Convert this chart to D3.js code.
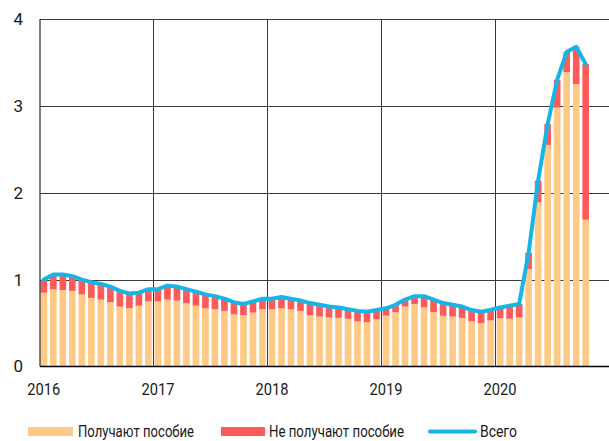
<!DOCTYPE html>
<html>
<head>
<meta charset="utf-8">
<script src="https://cdn.jsdelivr.net/npm/d3@7"></script>
<style>
  body { margin: 0; background: #fff; }
  svg text { font-family: Roboto, "Noto Sans", sans-serif; fill: #1a1a1a; }
</style>
</head>
<body>
<div id="chart"></div>
<script>
// monthly, Jan 2016 .. Oct 2020, millions of people
const months = d3.range(58).map(i => new Date(2016, i, 1));

const received = [
  0.85, 0.89, 0.88, 0.87, 0.83, 0.79, 0.77, 0.74, 0.69, 0.67, 0.70, 0.75,
  0.75, 0.77, 0.76, 0.73, 0.70, 0.67, 0.66, 0.64, 0.60, 0.59, 0.62, 0.66,
  0.66, 0.67, 0.66, 0.64, 0.59, 0.575, 0.565, 0.56, 0.55, 0.52, 0.51, 0.545,
  0.585, 0.625, 0.69, 0.72, 0.68, 0.625, 0.585, 0.575, 0.56, 0.52, 0.50, 0.53,
  0.555, 0.55, 0.565, 1.12, 1.89, 2.55, 2.98, 3.39, 3.25, 1.69
];
const notReceived = [
  0.15, 0.17, 0.18, 0.17, 0.17, 0.18, 0.18, 0.18, 0.18, 0.17, 0.15, 0.14,
  0.14, 0.16, 0.16, 0.16, 0.16, 0.16, 0.15, 0.14, 0.14, 0.13, 0.13, 0.12,
  0.12, 0.13, 0.12, 0.12, 0.14, 0.135, 0.125, 0.12, 0.11, 0.12, 0.12, 0.105,
  0.085, 0.085, 0.08, 0.09, 0.13, 0.145, 0.145, 0.135, 0.13, 0.13, 0.13, 0.12,
  0.125, 0.15, 0.155, 0.19, 0.25, 0.24, 0.32, 0.23, 0.43, 1.79
];
const yTicks = [0, 1, 2, 3, 4];
const yearTicks = [2016, 2017, 2018, 2019, 2020];
const legendItems = ["Получают пособие", "Не получают пособие", "Всего"];

const colors = { received: "#ffca88", notReceived: "#ff5a5a", total: "#17b4e6" };

const W = 609, H = 441;
const svg = d3.select("#chart").append("svg").attr("width", W).attr("height", H);

const x = d3.scaleBand().domain(months).range([40.5, 589]).paddingInner(0.3).paddingOuter(0).align(0);
const y = d3.scaleLinear().domain([0, 4]).range([366.5, 19]);

const data = months.map((m, i) => ({
  m, a: received[i], b: notReceived[i], total: received[i] + notReceived[i]
}));

// horizontal grid
svg.append("g").selectAll("line").data(yTicks.filter(d => d > 0)).join("line")
  .attr("x1", 40).attr("x2", W)
  .attr("y1", d => Math.round(y(d)) + 0.5).attr("y2", d => Math.round(y(d)) + 0.5)
  .attr("stroke", "#3a3a3a").attr("stroke-width", 1);

// vertical year grid
const yearX = yr => x(new Date(yr, 0, 1)) - x.step() * x.paddingInner() / 2;
svg.append("g").selectAll("line").data(yearTicks.slice(1)).join("line")
  .attr("x1", d => Math.round(yearX(d)) + 0.5).attr("x2", d => Math.round(yearX(d)) + 0.5)
  .attr("y1", y(4)).attr("y2", y(0))
  .attr("stroke", "#3a3a3a").attr("stroke-width", 1);

// bars
const bars = svg.append("g");
bars.selectAll("rect.a").data(data).join("rect").attr("class", "a")
  .attr("x", d => x(d.m)).attr("width", x.bandwidth())
  .attr("y", d => y(d.a)).attr("height", d => y(0) - y(d.a))
  .attr("fill", colors.received);
bars.selectAll("rect.b").data(data).join("rect").attr("class", "b")
  .attr("x", d => x(d.m)).attr("width", x.bandwidth())
  .attr("y", d => y(d.total)).attr("height", d => y(d.a) - y(d.total))
  .attr("fill", colors.notReceived);

// total line
const line = d3.line().x(d => x(d.m) + x.bandwidth() / 2).y(d => y(d.total));
svg.append("path").datum(data).attr("d", line)
  .attr("fill", "none").attr("stroke", colors.total)
  .attr("stroke-width", 4).attr("stroke-linejoin", "round").attr("stroke-linecap", "round");

// axes lines
svg.append("line").attr("x1", 40).attr("x2", W).attr("y1", y(0)).attr("y2", y(0))
  .attr("stroke", "#000").attr("stroke-width", 1.5);
svg.append("line").attr("x1", 40).attr("x2", 40).attr("y1", y(4)).attr("y2", y(0))
  .attr("stroke", "#000").attr("stroke-width", 1);

// y labels
svg.append("g").selectAll("text").data(yTicks).join("text")
  .attr("x", 23).attr("y", d => y(d)).attr("dy", "0.35em")
  .attr("text-anchor", "end").attr("font-size", 17)
  .text(d => d);

// x labels
svg.append("g").selectAll("text").data(yearTicks).join("text")
  .attr("x", d => x(new Date(d, 0, 1)) + x.bandwidth() / 2).attr("y", 395)
  .attr("text-anchor", "middle").attr("font-size", 17)
  .attr("textLength", 33).attr("lengthAdjust", "spacingAndGlyphs")
  .text(d => d);

// legend
const lg = svg.append("g");
const lgText = (tx, w, s) => lg.append("text").attr("x", tx).attr("y", 437)
  .attr("font-size", 16).attr("textLength", w).attr("lengthAdjust", "spacingAndGlyphs").text(s);
lg.append("rect").attr("x", 28).attr("y", 427).attr("width", 45).attr("height", 9).attr("fill", colors.received);
lgText(78, 116, legendItems[0]);
lg.append("rect").attr("x", 221).attr("y", 427).attr("width", 44).attr("height", 9).attr("fill", colors.notReceived);
lgText(269, 135, legendItems[1]);
lg.append("line").attr("x1", 430).attr("x2", 475).attr("y1", 431.5).attr("y2", 431.5)
  .attr("stroke", colors.total).attr("stroke-width", 4).attr("stroke-linecap", "round");
lgText(480, 37, legendItems[2]);
</script>
</body>
</html>
